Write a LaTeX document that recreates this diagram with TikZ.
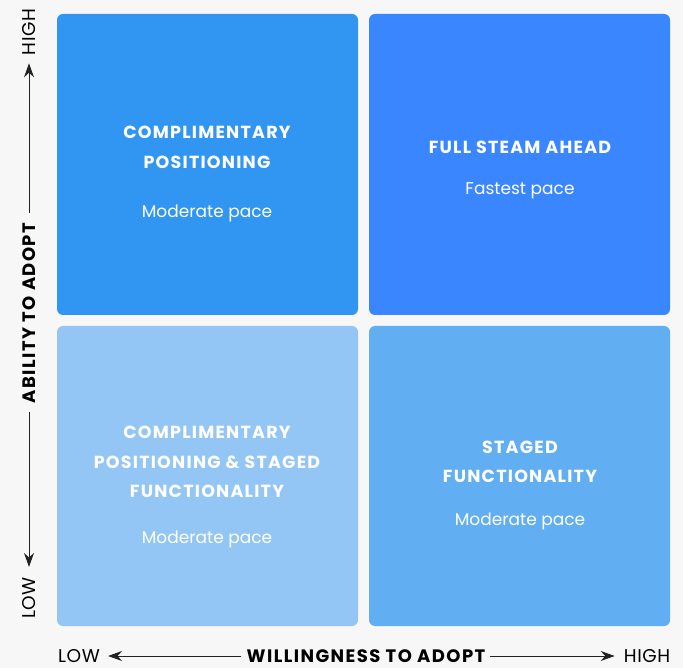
\documentclass[tikz,border=0pt]{standalone}
\usepackage{fontspec}
\setmainfont{Poppins}
\newfontfamily\trackedbold[LetterSpace=7]{Poppins}
\newfontfamily\axisbold[LetterSpace=8]{Poppins}
\newfontfamily\axisplain[LetterSpace=3]{Poppins}
\usetikzlibrary{arrows.meta}
\definecolor{bgc}{HTML}{F7F7F7}
\definecolor{qtl}{HTML}{3196F1}
\definecolor{qtr}{HTML}{3A86FF}
\definecolor{qbl}{HTML}{93C6F5}
\definecolor{qbr}{HTML}{62AEF2}
\definecolor{axc}{HTML}{222222}
\tikzset{
  x=1pt, y=-1pt,
  quad/.style={rounded corners=6pt, draw=none},
  qtitle/.style={text=white, font=\trackedbold\fontsize{17.5}{30}\selectfont\bfseries, align=center, inner sep=0pt, anchor=base},
  qsub/.style={text=white, font=\fontsize{17}{20}\selectfont, inner sep=0pt, anchor=base},
  axtitle/.style={text=black, font=\axisbold\fontsize{18}{20}\selectfont\bfseries, inner sep=0pt},
  axend/.style={text=black, font=\axisplain\fontsize{18.5}{20}\selectfont, inner sep=0pt},
  axline/.style={draw=axc, line width=1pt, -{Stealth[length=14pt, width=10pt]}},
}
\begin{document}
\begin{tikzpicture}
\fill[bgc] (0,0) rectangle (683,668);
\useasboundingbox (0,0) rectangle (683,668);

% quadrants
\fill[qtl, quad] (57,14) rectangle (358,315);
\fill[qtr, quad] (369,14) rectangle (670,315);
\fill[qbl, quad] (57,326) rectangle (358,626);
\fill[qbr, quad] (369,326) rectangle (670,626);

% quadrant texts
\node[qtitle] (tl1) at (207,139) {COMPLIMENTARY};
\node[qtitle] (tl2) at (207,169) {POSITIONING};
\node[qsub] (tl3) at (207,218) {Moderate pace};

\node[qtitle] (tr1) at (520,154) {FULL STEAM AHEAD};
\node[qsub] (tr2) at (520,195) {Fastest pace};

\node[qtitle] (bl1) at (207,438) {COMPLIMENTARY};
\node[qtitle] (bl2) at (207,468) {POSITIONING \& STAGED};
\node[qtitle] (bl3) at (207,497) {FUNCTIONALITY};
\node[qsub] (bl4) at (207,543) {Moderate pace};

\node[qtitle] (br1) at (520,453) {STAGED};
\node[qtitle] (br2) at (520,482) {FUNCTIONALITY};
\node[qsub] (br3) at (520,525) {Moderate pace};

% vertical axis
\node[axtitle, rotate=90] (ytitle) at (29,313) {ABILITY TO ADOPT};
\node[axend, rotate=90] (yhigh) at (29,32) {HIGH};
\node[axend, rotate=90] (ylow) at (29,598) {LOW};
\draw[axline, shorten <=10pt, shorten >=8pt] (ytitle.east) -- (yhigh.west);
\draw[axline, shorten <=9pt, shorten >=10pt] (ytitle.west) -- (ylow.east);

% horizontal axis
\node[axtitle] (xtitle) at (366,656) {WILLINGNESS TO ADOPT};
\node[axend] (xlow) at (79,656) {LOW};
\node[axend] (xhigh) at (647,656) {HIGH};
\draw[axline, shorten <=5pt, shorten >=8pt] (xtitle.west) -- (xlow.east);
\draw[axline, shorten <=4pt, shorten >=9pt] (xtitle.east) -- (xhigh.west);
\end{tikzpicture}
\end{document}
